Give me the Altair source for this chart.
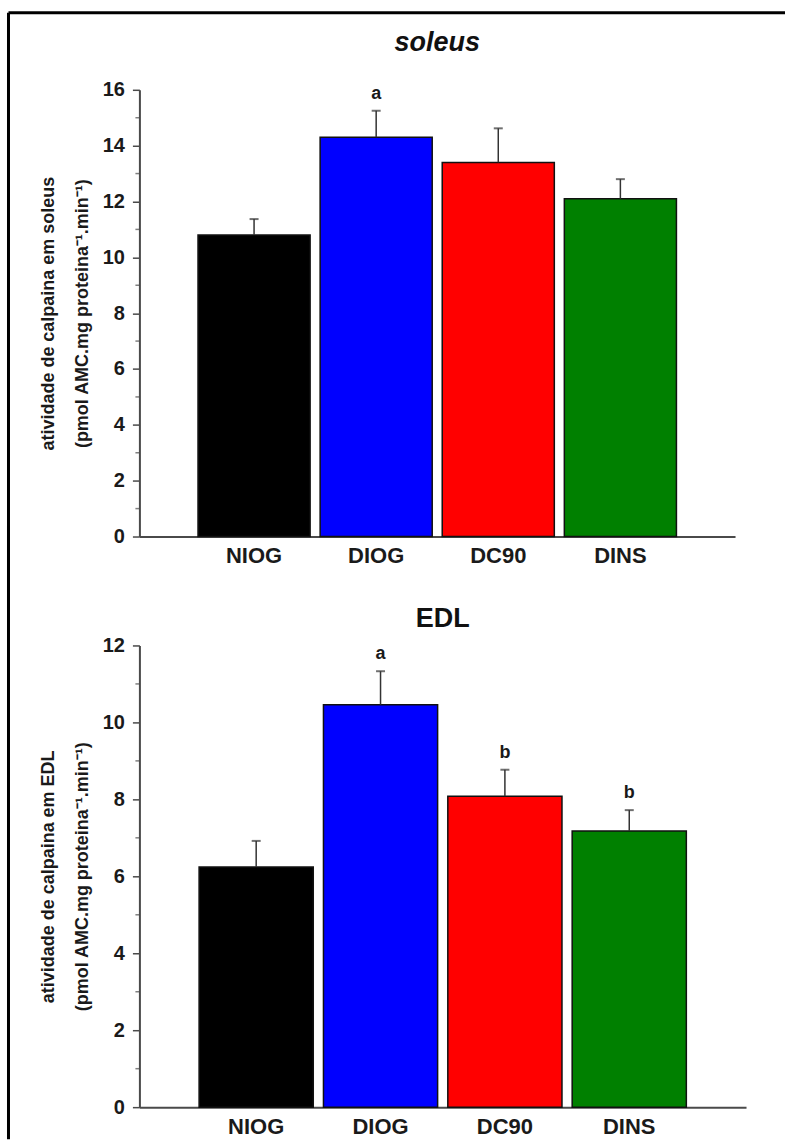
import altair as alt
import pandas as pd

groups = ["NIOG", "DIOG", "DC90", "DINS"]
colors = ["#000000", "#0000FF", "#FF0000", "#008000"]

soleus_title = "soleus"
soleus_mean = [10.8, 14.3, 13.4, 12.1]
soleus_sem = [0.57, 0.95, 1.22, 0.70]
soleus_letters = ["", "a", "", ""]

edl_title = "EDL"
edl_mean = [6.24, 10.46, 8.08, 7.18]
edl_sem = [0.68, 0.87, 0.69, 0.54]
edl_letters = ["", "a", "b", "b"]

soleus_ticks = [0, 2, 4, 6, 8, 10, 12, 14, 16]
soleus_minor = [1, 3, 5, 7, 9, 11, 13, 15]
edl_ticks = [0, 2, 4, 6, 8, 10, 12]
edl_minor = [1, 3, 5, 7, 9, 11]

soleus_ytitle = ["atividade de calpaina em soleus",
                 "(pmol AMC.mg proteina\u207b\u00b9.min\u207b\u00b9)"]
edl_ytitle = ["atividade de calpaina em EDL",
              "(pmol AMC.mg proteina\u207b\u00b9.min\u207b\u00b9)"]

FONT = "Liberation Sans"
AXIS_GREY = "#4a4a4a"


def panel(mean, sem, letters, ticks, minor, ymax, title, italic, ytitle,
          width, height, title_y, border):
    df = pd.DataFrame({"group": groups, "mean": mean, "sem": sem, "letter": letters})
    df["upper"] = df["mean"] + df["sem"]
    base = alt.Chart(df)
    x = alt.X("group:N", sort=groups, title=None,
              scale=alt.Scale(paddingInner=0.082, paddingOuter=0.48),
              axis=alt.Axis(labelAngle=0, ticks=False, domainColor=AXIS_GREY,
                            domainWidth=2, labelFont=FONT, labelFontWeight="bold",
                            labelFontSize=22, labelColor="#1a1a1a", labelPadding=9))
    yscale = alt.Scale(domain=[0, ymax], nice=False)
    bars = base.mark_bar(stroke="#111111", strokeWidth=1.5).encode(
        x=x,
        y=alt.Y("mean:Q", scale=yscale, title=ytitle,
                axis=alt.Axis(values=ticks, grid=False, domainColor=AXIS_GREY,
                              domainWidth=2, tickColor=AXIS_GREY, tickWidth=1.5,
                              tickSize=7, labelFont=FONT, labelFontWeight="bold",
                              labelFontSize=20, labelColor="#1a1a1a", labelPadding=8,
                              titleFont=FONT, titleFontWeight="bold", titleFontSize=18,
                              titleColor="#1a1a1a", titleLineHeight=34,
                              titlePadding=11)),
        color=alt.Color("group:N", scale=alt.Scale(domain=groups, range=colors),
                        legend=None),
    )
    err = base.mark_rule(color="#333333", strokeWidth=1.5).encode(
        x=alt.X("group:N", sort=groups), y="mean:Q", y2="upper:Q")
    cap = base.mark_tick(color="#333333", thickness=2, size=9,
                         orient="horizontal").encode(
        x=alt.X("group:N", sort=groups), y="upper:Q")
    text = base.mark_text(dy=-17, font=FONT, fontWeight="bold", fontSize=18,
                          color="#1a1a1a", baseline="middle").encode(
        x=alt.X("group:N", sort=groups), y="upper:Q", text="letter:N")
    mdf = pd.DataFrame({"v": minor})
    minor_ticks = alt.Chart(mdf).mark_tick(color=AXIS_GREY, thickness=1.5, size=4,
                                           orient="horizontal").encode(
        y=alt.Y("v:Q", scale=yscale), x=alt.value(-2))
    tdf = pd.DataFrame({"t": [title]})
    title_mark = alt.Chart(tdf).mark_text(
        font=FONT, fontWeight="bold", fontSize=27,
        fontStyle="italic" if italic else "normal",
        color="#111111", baseline="middle", align="center").encode(
        text="t:N", x=alt.value(width / 2), y=alt.value(title_y))
    one = pd.DataFrame({"k": [0]})
    layers = [bars, err, cap, text, minor_ticks, title_mark]
    for (x1, x2, y1, y2) in border:
        enc = {"x": alt.value(x1), "y": alt.value(y1)}
        if x2 is not None:
            enc["x2"] = alt.value(x2)
        if y2 is not None:
            enc["y2"] = alt.value(y2)
        layers.append(alt.Chart(one).mark_rule(color="#000000", strokeWidth=3).encode(**enc))
    return alt.layer(*layers).properties(width=width, height=height)


top = panel(soleus_mean, soleus_sem, soleus_letters, soleus_ticks, soleus_minor, 16,
            soleus_title, True, soleus_ytitle, 596, 447, -47,
            [(-131, 646, -77, None), (-131, None, -77, 520)])
bottom = panel(edl_mean, edl_sem, edl_letters, edl_ticks, edl_minor, 12,
               edl_title, False, edl_ytitle, 607, 462, -26,
               [(-131, None, -120, 494)])

chart = alt.vconcat(top, bottom, spacing=109, bounds="flush").properties(
    padding={"left": 6.5, "top": 10.5, "right": 0, "bottom": 0},
    background="white",
).configure_view(stroke=None)

chart.save("out.html", embed_options={"renderer": "svg", "actions": False})
